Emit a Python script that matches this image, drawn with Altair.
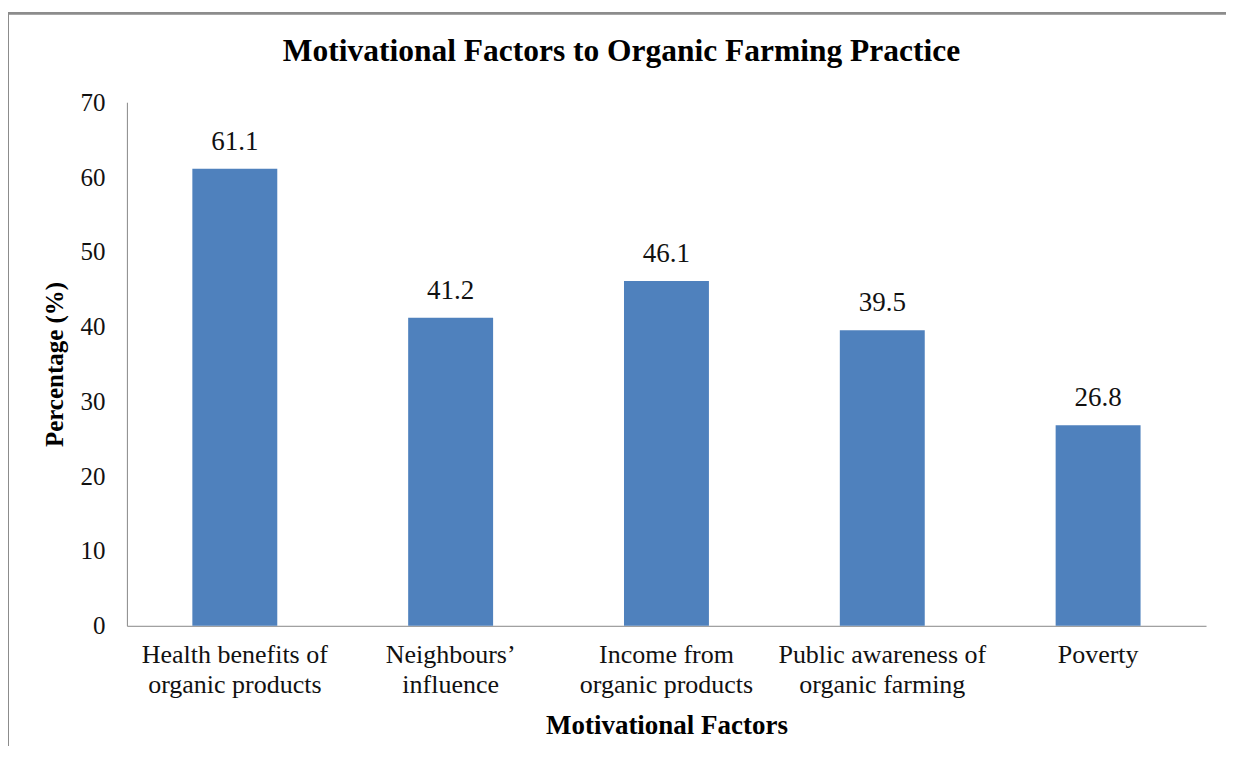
import altair as alt
import pandas as pd

categories = ["Health benefits of|organic products", "Neighbours’|influence",
              "Income from|organic products", "Public awareness of|organic farming", "Poverty"]
values = [61.1, 41.2, 46.1, 39.5, 26.8]
labels = ["61.1", "41.2", "46.1", "39.5", "26.8"]
title_text = ["Motivational Factors to Organic Farming Practice"]

df = pd.DataFrame({"cat": categories, "val": values, "lab": labels})
tdf = pd.DataFrame({"t": title_text})
FONT = "Liberation Serif"

x = alt.X("cat:N", sort=categories,
          scale=alt.Scale(paddingInner=0, paddingOuter=0),
          axis=alt.Axis(title="Motivational Factors", labelAngle=0, ticks=False,
                        labelExpr="split(datum.label, '|')", labelLineHeight=30,
                        labelLimit=400, labelPadding=16, titlePadding=15,
                        domainColor="#888888", labelFontSize=26, titleFontSize=27))
y = alt.Y("val:Q", scale=alt.Scale(domain=[0, 70]),
          axis=alt.Axis(title="Percentage (%)", values=[0, 10, 20, 30, 40, 50, 60, 70],
                        ticks=False, grid=False, labelPadding=22, titlePadding=12,
                        domainColor="#888888", labelFontSize=25, titleFontSize=25))

bars = alt.Chart(df).mark_bar(color="#4F81BD", size=85).encode(x=x, y=y)
text = alt.Chart(df).mark_text(dy=-27, fontSize=27, font=FONT, color="#111111").encode(
    x=alt.X("cat:N", sort=categories), y="val:Q", text="lab:N")

title = alt.Chart(tdf).mark_text(font=FONT, fontSize=31.5, fontWeight="bold", color="#000000",
                                 baseline="middle", align="center").encode(
    x=alt.value(495), y=alt.value(-50), text="t:N")

border_v = alt.Chart(df).mark_rule(color="#8c8c8c", strokeWidth=2).encode(
    x=alt.value(-119), y=alt.value(-89), y2=alt.value(700))
border_h = alt.Chart(df).mark_rule(color="#8c8c8c", strokeWidth=2).encode(
    x=alt.value(-119), x2=alt.value(1250), y=alt.value(-89))

chart = alt.layer(bars, text, title, border_v, border_h).properties(
    width=1080, height=524,
    autosize=alt.AutoSizeParams(type="none"),
    padding={"left": 119, "top": 94, "right": 20, "bottom": 120},
).configure_view(stroke=None).configure_axis(
    labelFont=FONT, titleFont=FONT, labelColor="#111111", titleColor="#000000",
    titleFontWeight="bold"
)

chart.save("out.html", embed_options={"renderer": "svg", "actions": False})
